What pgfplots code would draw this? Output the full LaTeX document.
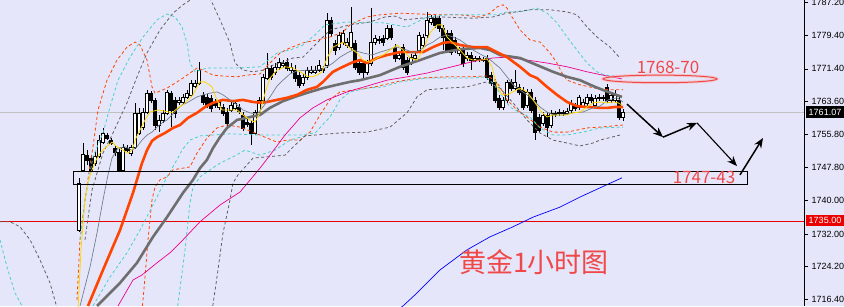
\documentclass[border=0pt]{standalone}
\usepackage{pgfplots}
\pgfplotsset{compat=1.18}
\usepackage{pgfplotstable}
\usepackage{fontspec}
\setmainfont{Liberation Sans}
\newfontfamily\cjk{Noto Sans CJK SC}
\usetikzlibrary{arrows.meta}

\definecolor{bg}{RGB}{230,230,250}
\definecolor{ored}{RGB}{255,69,0}
\definecolor{turq}{RGB}{72,209,204}
\definecolor{dgray}{RGB}{96,96,96}
\definecolor{thgray}{RGB}{110,110,110}
\definecolor{slate}{RGB}{112,128,144}
\definecolor{gold}{RGB}{255,215,0}
\definecolor{annot}{RGB}{240,72,72}
\definecolor{lastline}{RGB}{192,192,192}
\definecolor{lvl}{RGB}{235,0,0}

% hourly gold candles: x position, open, high, low, close
\pgfplotstableread{
x O H L C
75 1713.90 1734.13 1713.50 1733.18
79 1732.94 1745.35 1732.46 1744.16
83 1747.26 1753.71 1746.78 1751.08
87 1750.84 1752.03 1748.45 1749.65
91 1750.12 1750.84 1746.78 1747.26
95 1748.93 1751.56 1748.22 1750.60
99 1750.60 1755.61 1750.12 1754.42
103 1753.94 1757.29 1753.47 1756.09
107 1755.61 1756.09 1754.42 1754.90
111 1754.42 1754.90 1753.23 1753.71
115 1752.51 1752.99 1750.60 1751.56
119 1751.56 1752.51 1746.78 1747.26
123 1747.26 1753.47 1746.78 1752.75
127 1752.51 1753.23 1751.56 1752.03
131 1751.32 1753.23 1750.60 1752.75
135 1752.75 1763.25 1752.27 1760.87
139 1756.09 1762.06 1755.61 1760.87
143 1757.52 1762.06 1756.81 1761.11
147 1761.11 1766.36 1760.63 1765.64
151 1765.64 1766.12 1763.25 1763.97
155 1763.97 1764.45 1756.81 1758.00
159 1758.00 1760.39 1756.33 1759.20
163 1759.20 1761.58 1758.48 1760.87
167 1760.87 1766.36 1760.39 1765.88
171 1765.64 1766.12 1757.52 1761.58
175 1763.97 1764.69 1759.67 1760.87
179 1763.49 1764.69 1762.78 1763.97
183 1763.49 1765.40 1763.02 1764.69
187 1764.69 1766.36 1764.21 1765.64
191 1765.16 1768.74 1764.69 1768.03
195 1767.31 1768.74 1766.83 1768.03
199 1768.03 1773.04 1767.55 1771.13
203 1765.16 1765.88 1762.78 1763.49
207 1764.69 1765.40 1762.06 1762.78
211 1764.45 1765.16 1761.11 1762.06
215 1763.25 1764.21 1762.06 1762.78
219 1762.30 1763.97 1761.58 1763.49
223 1762.30 1763.02 1760.15 1760.87
227 1761.11 1762.06 1757.76 1758.48
231 1761.58 1763.49 1761.11 1762.78
235 1762.06 1763.97 1761.58 1763.25
239 1762.30 1763.02 1760.63 1761.34
243 1760.39 1761.11 1756.57 1757.29
247 1758.72 1759.43 1757.52 1758.24
251 1758.48 1759.20 1753.23 1756.09
255 1756.09 1761.58 1755.61 1761.11
259 1761.11 1764.69 1760.63 1763.97
263 1763.97 1770.18 1763.49 1769.46
267 1769.22 1775.19 1768.74 1771.61
271 1771.61 1772.32 1768.74 1769.46
275 1770.65 1772.80 1769.94 1771.85
279 1771.85 1774.00 1771.13 1773.04
283 1772.32 1773.52 1771.61 1772.80
287 1773.04 1774.00 1770.89 1771.61
291 1771.13 1772.80 1770.41 1771.85
295 1771.13 1772.32 1768.27 1769.22
299 1769.94 1770.65 1766.83 1767.55
303 1768.03 1770.18 1767.31 1769.46
307 1769.46 1771.85 1768.74 1771.13
311 1770.65 1772.09 1770.18 1771.13
315 1770.65 1772.09 1770.18 1771.13
319 1771.13 1773.52 1770.65 1772.32
323 1771.61 1772.09 1770.41 1771.13
327 1772.32 1784.74 1771.61 1783.07
331 1783.07 1783.78 1779.25 1779.96
335 1777.58 1778.29 1774.71 1775.90
339 1776.62 1780.20 1775.90 1779.49
343 1777.81 1780.68 1777.10 1779.96
347 1777.10 1778.77 1776.38 1777.81
351 1776.62 1786.17 1775.90 1780.20
355 1777.58 1778.29 1771.13 1771.85
359 1772.80 1773.52 1769.94 1770.65
363 1772.80 1773.52 1769.22 1770.65
367 1770.65 1773.52 1769.94 1772.80
371 1772.80 1785.93 1772.09 1777.81
375 1777.81 1779.49 1777.10 1778.77
379 1778.53 1779.25 1777.34 1778.29
383 1778.77 1779.49 1776.86 1777.81
387 1778.77 1781.87 1778.29 1781.16
391 1781.16 1781.87 1778.29 1779.01
395 1776.62 1777.34 1773.04 1774.00
399 1774.00 1775.43 1773.52 1774.71
403 1776.62 1777.34 1771.13 1771.85
407 1773.52 1774.23 1769.94 1770.65
411 1773.04 1774.95 1772.32 1774.23
415 1774.00 1775.43 1773.52 1774.71
419 1775.90 1780.20 1775.19 1779.49
423 1777.10 1779.72 1776.38 1779.01
427 1779.49 1784.98 1778.77 1783.07
431 1782.59 1784.26 1781.87 1783.54
435 1783.54 1784.26 1781.16 1781.87
439 1783.54 1784.26 1780.20 1781.16
443 1781.16 1781.87 1775.90 1779.01
447 1779.96 1780.68 1775.19 1775.90
451 1779.96 1780.68 1774.71 1775.43
455 1778.29 1779.01 1775.19 1775.90
459 1775.19 1776.62 1774.47 1775.90
463 1775.90 1776.62 1771.85 1772.80
467 1774.00 1775.43 1773.28 1774.71
471 1774.71 1775.43 1771.13 1773.52
475 1773.52 1774.47 1773.04 1774.00
479 1774.00 1774.47 1773.04 1773.76
483 1773.76 1774.23 1773.04 1773.52
487 1774.00 1774.71 1768.74 1769.46
491 1769.94 1770.65 1767.31 1768.03
495 1768.27 1768.98 1763.25 1763.97
499 1764.45 1765.16 1761.58 1762.30
503 1762.30 1764.69 1761.58 1763.97
507 1763.97 1768.74 1763.25 1768.27
511 1768.27 1768.98 1766.12 1766.83
515 1766.83 1771.13 1766.12 1768.27
519 1767.07 1767.79 1765.16 1765.88
523 1766.36 1767.07 1761.58 1762.30
527 1762.78 1766.60 1762.06 1765.88
531 1765.88 1766.60 1760.87 1761.58
535 1763.97 1764.69 1754.42 1756.33
539 1759.91 1760.63 1756.09 1756.81
543 1758.48 1761.11 1757.76 1760.39
547 1760.39 1761.11 1755.14 1757.52
551 1758.00 1761.58 1757.29 1760.87
555 1760.63 1761.34 1759.91 1760.87
559 1760.87 1761.82 1760.15 1761.11
563 1761.11 1761.58 1760.15 1760.87
567 1760.87 1762.06 1760.39 1761.34
571 1761.58 1763.97 1760.87 1763.25
575 1762.54 1763.25 1761.34 1762.06
579 1762.30 1765.16 1761.58 1764.69
583 1762.54 1764.21 1762.06 1763.49
587 1763.25 1765.40 1762.54 1764.69
591 1764.69 1765.40 1763.25 1763.97
595 1762.78 1765.16 1762.30 1764.45
599 1764.45 1765.40 1763.73 1764.69
603 1764.69 1765.16 1763.73 1764.45
607 1767.07 1767.79 1763.25 1763.97
611 1763.97 1765.88 1763.25 1765.16
615 1763.97 1766.36 1763.25 1765.16
619 1763.97 1764.69 1759.20 1759.91
623 1759.91 1761.82 1758.96 1761.07
}\candles

\begin{document}
\begin{tikzpicture}
\fill[bg] (0,0) rectangle (844pt,306pt);
\begin{axis}[
  at={(0pt,0pt)}, anchor=south west,
  scale only axis, width=804pt, height=306pt,
  xmin=0, xmax=804, ymin=1714.79, ymax=1787.84,
  axis x line=none,
  axis y line=right,
  y axis line style={-, line width=0.8pt, black},
  ytick={1716.4,1724.2,1732.0,1740.0,1747.8,1755.8,1763.6,1771.4,1779.4,1787.2},
  yticklabels={1716.40,1724.20,1732.00,1740.00,1747.80,1755.80,1763.60,1771.40,1779.40,1787.20},
  tick align=outside, major tick length=4pt,
  ytick style={black, line width=0.6pt},
  yticklabel style={font=\fontsize{9}{10}\selectfont, text=black},
  clip marker paths=true,
]
% price levels
\addplot[lastline, line width=0.8pt] coordinates {(0,1761.07) (804,1761.07)};
\addplot[lvl, line width=1.1pt] coordinates {(0,1735.00) (804,1735.00)};

% candlesticks: wick from low to high, body from open to close
\addplot[only marks, mark=*, mark size=0pt,
  mark options={draw=none, fill=none},
  scatter,
  visualization depends on={\thisrow{H}-\thisrow{O} \as \hi},
  visualization depends on={\thisrow{L}-\thisrow{O} \as \lo},
  visualization depends on={\thisrow{C}-\thisrow{O} \as \bd},
  scatter/@pre marker code/.code={
    \pgfmathtruncatemacro\isup{\bd>0}
    \draw[draw=black, draw opacity=1, line width=0.8pt] (axis direction cs:0,\lo) -- (axis direction cs:0,\hi);
    \ifnum\isup=1
      \filldraw[draw=black, fill=white, opacity=1, line width=0.8pt] (axis direction cs:-1.3,0) rectangle (axis direction cs:1.3,\bd);
    \else
      \filldraw[draw=black, fill=black, opacity=1, line width=0.8pt] (axis direction cs:-1.3,0) rectangle (axis direction cs:1.3,\bd);
    \fi
  },
  scatter/@post marker code/.code={},
] table[x=x, y=O] {\candles};

% band envelopes
\pgfplotsset{band/.style={line width=0.8pt, dash pattern=on 3pt off 2.5pt}}
\addplot[band, dgray] coordinates {(0,1734.9) (10,1734.9) (20,1733.7) (30,1730.6) (40,1725.8) (50,1720.3) (58,1713.5)};
\addplot[band, turq] coordinates {(0,1730.6) (7,1724.1) (15,1717.9) (25,1713.5)};
\addplot[band, ored] coordinates {(77,1716.2) (80,1730.6) (85,1740.1) (90,1748.5) (93,1752.8) (98,1761.6) (107,1768.7) (117,1773.5) (127,1776.6) (135,1777.8) (140,1777.1) (147,1773.5) (152,1767.1) (155,1765.6) (167,1766.8) (183,1769.2) (197,1771.6) (203,1771.1) (213,1769.9) (223,1769.7) (237,1769.5) (247,1769.9) (260,1770.2) (270,1772.8) (280,1775.2) (290,1776.4) (303,1777.6) (317,1778.3) (330,1779.0) (343,1780.2) (350,1781.9) (367,1783.8) (380,1784.3) (400,1784.7) (440,1784.3) (460,1784.3) (480,1783.8) (490,1784.7) (497,1786.2) (503,1786.7) (507,1785.9) (512,1783.8) (520,1780.7) (530,1778.3) (540,1777.8) (550,1775.2) (557,1772.8) (562,1770.4) (567,1768.7) (580,1767.6) (595,1766.8) (610,1766.4) (623,1766.4)};
\addplot[band, ored] coordinates {(142,1713.5) (145,1721.7) (148,1730.6) (152,1740.1) (155,1743.2) (160,1744.9) (167,1745.6) (173,1747.3) (183,1747.7) (190,1748.0) (197,1751.3) (207,1754.9) (217,1757.3) (227,1758.0) (240,1757.5) (253,1756.3) (267,1754.9) (277,1753.9) (287,1754.4) (300,1754.4) (310,1756.3) (320,1760.4) (330,1764.0) (340,1765.9) (355,1766.4) (375,1767.1) (400,1768.5) (420,1769.2) (447,1769.5) (467,1769.5) (487,1769.7) (495,1768.7) (500,1767.1) (507,1764.0) (517,1761.6) (527,1759.9) (540,1757.5) (553,1756.3) (567,1756.3) (587,1757.3) (600,1757.5) (623,1758.0)};
\addplot[band, turq] coordinates {(80,1730.6) (85,1740.1) (93,1750.4) (103,1756.1) (110,1762.3) (118,1768.7) (130,1774.2) (143,1779.0) (157,1783.1) (167,1784.5) (175,1783.8) (182,1781.4) (187,1777.6) (190,1772.8) (195,1770.7) (207,1771.6) (237,1771.6) (260,1771.9) (277,1775.2) (290,1775.9) (303,1777.1) (315,1779.5) (325,1781.9) (347,1782.6) (367,1782.4) (383,1782.4) (407,1781.4) (427,1783.8) (447,1784.3) (473,1784.3) (497,1784.3) (507,1785.0) (520,1785.0) (537,1785.9) (547,1784.7) (557,1782.4) (567,1779.0) (577,1775.9) (587,1772.8) (597,1770.7) (605,1769.9) (623,1769.5)};
\addplot[band, turq] coordinates {(93,1714.8) (110,1721.7) (127,1727.5) (140,1732.9) (157,1740.8) (167,1745.6) (177,1749.7) (182,1752.0) (190,1754.4) (200,1755.4) (230,1755.9) (260,1755.6) (300,1755.6) (315,1756.1) (330,1759.9) (340,1764.0) (350,1765.9) (367,1766.8) (383,1767.1) (400,1768.3) (427,1769.2) (453,1769.2) (473,1769.2) (485,1769.5) (493,1768.0) (500,1765.6) (510,1762.3) (520,1760.9) (530,1759.9) (540,1757.3) (553,1755.6) (567,1755.6) (583,1756.3) (600,1757.3) (623,1757.5)};
\addplot[band, turq] coordinates {(177,1713.5) (185,1728.2) (190,1739.4) (193,1743.2) (200,1745.6) (210,1747.3) (220,1748.9) (233,1750.4) (245,1752.0) (260,1750.8) (275,1752.0) (290,1754.4) (305,1755.4)};
\addplot[band, dgray] coordinates {(85,1730.6) (92,1742.5) (98,1747.3) (103,1751.3) (113,1756.1) (127,1763.3) (137,1769.5) (147,1775.2) (160,1780.7) (173,1784.7) (183,1786.7) (190,1787.8) (200,1789.8) (210,1788.3) (220,1783.1) (230,1777.6) (235,1772.8) (243,1771.1) (253,1770.7) (263,1771.1) (273,1772.3) (283,1773.0) (293,1774.0) (303,1774.2) (315,1777.1) (330,1780.7) (350,1781.9) (370,1782.6) (385,1783.8) (395,1784.0) (405,1783.1) (420,1783.5) (440,1783.8) (473,1783.5) (493,1783.8) (507,1784.7) (530,1785.5) (550,1785.5) (567,1785.0) (577,1784.3) (587,1781.4) (597,1779.0) (610,1776.6) (620,1774.0)};
\addplot[band, dgray] coordinates {(212,1713.5) (217,1721.7) (223,1732.2) (230,1740.1) (233,1744.2) (238,1746.1) (253,1750.1) (267,1750.4) (285,1750.8) (295,1753.2) (305,1755.4) (340,1756.1) (367,1756.3) (390,1757.5) (407,1760.9) (417,1764.7) (427,1766.4) (447,1766.8) (467,1767.1) (487,1768.3) (500,1766.8) (513,1763.3) (527,1759.2) (540,1756.1) (553,1754.4) (567,1753.7) (580,1753.0) (593,1753.7) (600,1754.4) (620,1755.6)};

% moving averages
\addplot[blue, line width=0.7pt] coordinates {(395,1713.5) (403,1714.8) (417,1717.9) (440,1723.4) (467,1728.2) (490,1731.3) (513,1733.7) (533,1736.0) (560,1738.4) (580,1740.8) (600,1743.0) (622,1745.4)};
\addplot[magenta, line width=0.7pt] coordinates {(118,1714.8) (133,1721.0) (142,1722.2) (157,1725.1) (170,1727.5) (183,1730.6) (200,1734.9) (220,1738.9) (240,1742.0) (260,1747.7) (270,1750.8) (285,1755.6) (300,1759.7) (313,1762.1) (327,1764.0) (347,1765.9) (367,1767.3) (387,1768.7) (407,1769.5) (427,1770.4) (447,1771.6) (467,1772.8) (480,1773.5) (493,1774.0) (507,1774.2) (527,1773.5) (547,1772.8) (567,1771.9) (587,1770.7) (607,1769.7) (622,1769.0)};
\addplot[thgray, line width=2.6pt] coordinates {(97,1714.8) (120,1720.3) (137,1725.1) (153,1731.3) (167,1736.0) (183,1741.8) (193,1744.9) (200,1747.7) (207,1749.7) (213,1752.5) (220,1755.1) (227,1757.3) (237,1759.2) (250,1759.9) (260,1760.4) (270,1762.1) (283,1763.7) (297,1764.9) (310,1765.9) (323,1766.8) (337,1767.6) (350,1768.3) (360,1768.7) (380,1769.9) (400,1771.9) (420,1773.5) (440,1775.2) (460,1776.1) (480,1776.4) (490,1775.9) (500,1774.7) (520,1774.0) (537,1772.3) (553,1770.7) (567,1769.5) (580,1768.7) (595,1767.1) (608,1765.9) (622,1764.7)};
\addplot[ored, line width=2.6pt] coordinates {(88,1714.8) (103,1723.4) (120,1732.9) (133,1741.8) (142,1748.9) (147,1752.0) (152,1754.2) (157,1755.1) (165,1756.1) (173,1757.3) (180,1758.0) (188,1759.7) (197,1760.9) (205,1762.3) (213,1763.3) (223,1764.0) (233,1763.7) (243,1764.0) (253,1763.5) (262,1763.3) (267,1763.5) (277,1764.0) (287,1764.5) (297,1765.2) (307,1766.4) (317,1767.1) (323,1768.3) (333,1770.7) (343,1771.9) (353,1773.0) (360,1773.5) (367,1772.8) (377,1774.0) (387,1774.7) (400,1775.4) (413,1775.4) (423,1775.4) (433,1776.6) (443,1777.6) (450,1777.8) (460,1777.1) (473,1776.6) (487,1776.6) (497,1775.4) (507,1774.2) (520,1771.9) (530,1769.9) (537,1769.2) (547,1767.1) (557,1765.2) (567,1763.5) (577,1762.5) (587,1762.3) (600,1762.1) (608,1762.1) (615,1762.3) (623,1762.3)};
\addplot[slate, line width=0.7pt] coordinates {(80,1714.8) (90,1724.1) (97,1732.2) (103,1740.1) (108,1746.1) (112,1750.1) (118,1752.5) (125,1752.8) (132,1752.0) (137,1752.8) (142,1754.4) (147,1755.6) (152,1756.3) (157,1757.5) (162,1758.5) (167,1759.2) (172,1760.4) (177,1761.6) (182,1762.8) (187,1763.3) (192,1764.0) (197,1764.7) (203,1765.2) (210,1765.6) (217,1765.9) (223,1765.2) (230,1764.0) (237,1762.8) (243,1761.6) (250,1760.9) (257,1760.6) (263,1762.3) (270,1764.7) (277,1767.3) (283,1768.7) (290,1770.2) (297,1770.9) (307,1771.1) (317,1771.1) (325,1771.6) (333,1772.8) (340,1774.2) (347,1775.2) (353,1775.9) (363,1775.2) (372,1774.7) (380,1775.4) (387,1775.9) (397,1776.6) (407,1775.9) (413,1775.2) (420,1775.9) (427,1777.1) (433,1777.8) (440,1779.0) (447,1779.5) (453,1779.0) (460,1778.3) (467,1777.1) (473,1775.9) (482,1774.7) (488,1774.0) (493,1773.0) (500,1771.6) (507,1769.5) (513,1767.6) (520,1766.4) (527,1765.2) (533,1764.0) (540,1762.3) (547,1761.1) (553,1760.4) (563,1760.4) (573,1760.9) (583,1761.1) (593,1762.1) (600,1762.5) (608,1764.0) (617,1764.5) (623,1763.5)};
\addplot[gold, line width=0.8pt] coordinates {(78,1714.0) (81,1728.2) (85,1740.1) (88,1744.5) (92,1747.3) (96,1749.6) (100,1751.3) (105,1752.5) (112,1753.9) (117,1752.8) (123,1752.0) (128,1751.3) (132,1752.0) (136,1754.9) (140,1756.8) (145,1759.2) (150,1761.1) (158,1761.6) (165,1761.3) (172,1760.9) (178,1762.1) (183,1762.8) (188,1764.0) (193,1765.2) (197,1767.1) (200,1768.3) (205,1768.3) (212,1767.1) (217,1764.0) (222,1761.6) (230,1761.6) (237,1761.6) (243,1760.4) (250,1759.2) (255,1758.7) (260,1760.9) (265,1765.6) (270,1769.2) (277,1771.1) (285,1771.9) (293,1771.6) (300,1770.7) (307,1769.7) (312,1769.5) (317,1769.9) (322,1770.7) (327,1774.0) (333,1776.6) (343,1777.8) (350,1776.4) (357,1775.2) (363,1773.5) (370,1773.0) (377,1774.0) (383,1774.7) (390,1775.9) (397,1777.1) (403,1775.9) (410,1774.0) (417,1773.5) (423,1775.9) (430,1780.0) (437,1781.9) (442,1781.9) (447,1779.0) (453,1777.6) (460,1775.9) (467,1774.0) (473,1773.5) (482,1773.5) (487,1773.8) (492,1771.9) (497,1767.1) (502,1765.2) (507,1765.2) (513,1765.9) (520,1766.8) (527,1765.9) (533,1764.0) (540,1761.6) (547,1759.9) (553,1760.4) (567,1760.4) (573,1760.9) (580,1761.1) (587,1762.3) (593,1763.3) (600,1763.5) (607,1763.3) (613,1763.5) (618,1763.3) (622,1762.8)};

% support zone and resistance marker
\draw[black, line width=0.9pt] (axis cs:73,1747.0) rectangle (axis cs:747,1743.9);
\draw[annot!40, opacity=0.6, line width=3pt] (axis cs:660,1769.0) ellipse [x radius=57pt, y radius=3.8pt];
\draw[annot, line width=1pt] (axis cs:660,1769.0) ellipse [x radius=57pt, y radius=3.8pt];
\node[text=annot, font=\cjk\fontsize{17}{17}\selectfont, inner sep=0pt] at (axis cs:668,1771.7) {1768-70};
\node[text=annot, font=\cjk\fontsize{17}{17}\selectfont, inner sep=0pt] at (axis cs:704,1745.4) {1747-43};
\node[text=annot, font=\cjk\fontsize{27}{27}\selectfont, inner sep=0pt] at (axis cs:534,1725.3) {黄金1小时图};

% expected path
\draw[-{Stealth[length=10pt,width=8pt]}, line width=1.5pt] (axis cs:627,1763.0) -- (axis cs:663,1755.1);
\draw[-{Stealth[length=10pt,width=8pt]}, line width=1.5pt] (axis cs:663,1755.1) -- (axis cs:697,1758.5);
\draw[-{Stealth[length=10pt,width=8pt]}, line width=1.1pt] (axis cs:697,1758.5) -- (axis cs:737,1748.2);
\draw[-{Stealth[length=10pt,width=8pt]}, line width=1.5pt] (axis cs:740,1746.1) -- (axis cs:763,1754.9);
\end{axis}
% price tags on the scale
\fill[black] (806pt,188pt) rectangle (844pt,200pt);
\node[text=white, font=\fontsize{9}{10}\selectfont, inner sep=0pt] at (825pt,194pt) {1761.07};
\fill[lvl] (806pt,80pt) rectangle (844pt,91pt);
\node[text=white, font=\fontsize{9}{10}\selectfont, inner sep=0pt] at (825pt,85.5pt) {1735.00};
\pgfresetboundingbox
\path (0,0) rectangle (844pt,306pt);
\end{tikzpicture}
\end{document}
